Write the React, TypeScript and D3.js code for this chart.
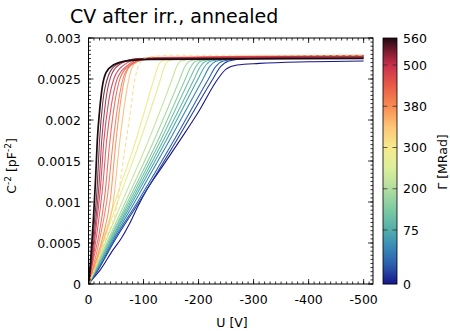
import React from 'react';
import * as d3 from 'd3';

// C^-2 vs bias voltage after irradiation + annealing, one curve per dose
const X_TICKS = [0, -100, -200, -300, -400, -500];
const Y_TICKS = [0, 0.0005, 0.001, 0.0015, 0.002, 0.0025, 0.003];
const Y_TICK_LABELS = ['0', '0.0005', '0.001', '0.0015', '0.002', '0.0025', '0.003'];
const GAMMA_TICKS = [0, 75, 200, 300, 380, 500, 560];

// colormap stops (dose -> colour)
const CMAP_GAMMA = [0, 25, 55, 75, 140, 200, 250, 300, 340, 380, 440, 500, 530, 560];
const CMAP_COLOR = ['#16168a', '#2a5aac', '#3a90b8', '#52aeaa', '#80cba2', '#b2dda0', '#dcef9a', '#f6ea8e', '#fdc577', '#f98b52', '#e95b47', '#c9304c', '#7d1b30', '#1e0a10'];

// [U (V), C^-2 (pF^-2)]
const CURVE_0 = [[0, 0], [-10, 0.00008], [-21, 0.00017], [-44, 0.00041], [-60, 0.00056], [-75, 0.00074], [-90, 0.00095], [-106, 0.00115], [-135, 0.00144], [-167, 0.00176], [-200, 0.0021], [-235, 0.0025], [-250, 0.00262], [-270, 0.00267], [-310, 0.00269], [-400, 0.00271], [-500, 0.00272]];
const CURVE_15 = [[0, 0], [-20, 0.0002], [-45, 0.0005], [-92, 0.001], [-160, 0.00175], [-226, 0.0025], [-240, 0.00265], [-255, 0.00272], [-290, 0.00275], [-380, 0.00276], [-500, 0.00277]];
const CURVE_30 = [[0, 0], [-20, 0.00021], [-43, 0.0005], [-89, 0.001], [-155, 0.00175], [-218, 0.0025], [-231, 0.00265], [-245, 0.00272], [-280, 0.00275], [-380, 0.00276], [-500, 0.00277]];
const CURVE_50 = [[0, 0], [-19, 0.00022], [-41, 0.0005], [-84, 0.001], [-147, 0.00175], [-208, 0.0025], [-220, 0.00265], [-233, 0.00272], [-270, 0.00275], [-380, 0.00276], [-500, 0.00277]];
const CURVE_70 = [[0, 0], [-18, 0.00022], [-39, 0.0005], [-80, 0.001], [-141, 0.00175], [-199, 0.0025], [-211, 0.00265], [-223, 0.00272], [-260, 0.00275], [-380, 0.00276], [-500, 0.00277]];
const CURVE_95 = [[0, 0], [-17, 0.00022], [-38, 0.0005], [-77, 0.001], [-136, 0.00175], [-192, 0.0025], [-203, 0.00265], [-214, 0.00272], [-250, 0.00275], [-380, 0.00276], [-500, 0.00277]];
const CURVE_120 = [[0, 0], [-16, 0.00022], [-36, 0.0005], [-74, 0.001], [-131, 0.00175], [-184, 0.0025], [-195, 0.00265], [-205, 0.00272], [-240, 0.00275], [-380, 0.00276], [-500, 0.00277]];
const CURVE_150 = [[0, 0], [-16, 0.00023], [-35, 0.0005], [-71, 0.001], [-126, 0.00175], [-176, 0.0025], [-186, 0.00265], [-196, 0.00272], [-230, 0.00275], [-380, 0.00276], [-500, 0.00277]];
const CURVE_185 = [[0, 0], [-15, 0.00023], [-33, 0.0005], [-67, 0.001], [-119, 0.00175], [-166, 0.0025], [-175, 0.00265], [-184, 0.00272], [-215, 0.00275], [-380, 0.00276], [-500, 0.00277]];
const CURVE_225 = [[0, 0], [-14, 0.00023], [-30, 0.0005], [-61, 0.001], [-109, 0.00175], [-152, 0.0025], [-160, 0.00265], [-168, 0.00272], [-200, 0.00275], [-380, 0.00277], [-500, 0.00277]];
const CURVE_265 = [[0, 0], [-12, 0.00023], [-26, 0.0005], [-53, 0.001], [-94, 0.00175], [-131, 0.0025], [-138, 0.00265], [-145, 0.00272], [-175, 0.00276], [-380, 0.00277], [-500, 0.00278]];
const CURVE_290 = [[0, 0], [-11, 0.00023], [-24, 0.0005], [-48, 0.001], [-86, 0.00175], [-119, 0.0025], [-126, 0.00265], [-133, 0.00272], [-160, 0.00276], [-380, 0.00277], [-500, 0.00278]];
const CURVE_320 = [[0, 0], [-15, 0.00025], [-30, 0.00054], [-51, 0.00094], [-63, 0.0015], [-75, 0.00205], [-85, 0.00252], [-92, 0.00268], [-105, 0.00276], [-150, 0.00279], [-500, 0.00279]];
const CURVE_350 = [[0, 0], [-14, 0.00025], [-28, 0.00055], [-45, 0.001], [-57, 0.00175], [-68, 0.0023], [-78, 0.00262], [-90, 0.00272], [-120, 0.00276], [-500, 0.00277]];
const CURVE_380 = [[0, 0], [-12, 0.00025], [-25, 0.00055], [-40, 0.00105], [-50, 0.00175], [-60, 0.0023], [-70, 0.0026], [-85, 0.00271], [-120, 0.00276], [-500, 0.00278]];
const CURVE_410 = [[0, 0], [-10, 0.00025], [-22, 0.0006], [-35, 0.0011], [-45, 0.00175], [-55, 0.00225], [-65, 0.00255], [-80, 0.00268], [-115, 0.00275], [-500, 0.00278]];
const CURVE_440 = [[0, 0], [-9, 0.0003], [-19, 0.0006], [-30, 0.0011], [-39, 0.00175], [-48, 0.00222], [-58, 0.00252], [-75, 0.00267], [-110, 0.00276], [-500, 0.00279]];
const CURVE_470 = [[0, 0], [-8, 0.0003], [-17, 0.0007], [-26, 0.0012], [-33, 0.00175], [-42, 0.0022], [-52, 0.0025], [-68, 0.00265], [-100, 0.00275], [-500, 0.00278]];
const CURVE_500 = [[0, 0], [-7, 0.0003], [-14, 0.0007], [-22, 0.0012], [-28, 0.00175], [-36, 0.0022], [-46, 0.0025], [-62, 0.00266], [-95, 0.00275], [-500, 0.00278]];
const CURVE_520 = [[0, 0], [-6, 0.0003], [-12, 0.0007], [-19, 0.0012], [-24, 0.00175], [-31, 0.00222], [-40, 0.00252], [-55, 0.00267], [-90, 0.00275], [-500, 0.00277]];
const CURVE_540 = [[0, 0], [-5, 0.0003], [-10, 0.0007], [-16, 0.0012], [-20, 0.00175], [-26, 0.00222], [-35, 0.00252], [-50, 0.00267], [-85, 0.00274], [-500, 0.00276]];
const CURVE_560 = [[0, 0], [-4, 0.0003], [-9, 0.0008], [-13, 0.0013], [-16, 0.00175], [-20, 0.0021], [-25, 0.0024], [-32, 0.00258], [-45, 0.00267], [-70, 0.00272], [-110, 0.00274], [-500, 0.00275]];

const SERIES = [
  { gamma: 0, pts: CURVE_0 }, { gamma: 15, pts: CURVE_15 }, { gamma: 30, pts: CURVE_30 },
  { gamma: 50, pts: CURVE_50 }, { gamma: 70, pts: CURVE_70 }, { gamma: 95, pts: CURVE_95 },
  { gamma: 120, pts: CURVE_120 }, { gamma: 150, pts: CURVE_150 }, { gamma: 185, pts: CURVE_185 },
  { gamma: 225, pts: CURVE_225 }, { gamma: 265, pts: CURVE_265 }, { gamma: 290, pts: CURVE_290 },
  { gamma: 350, pts: CURVE_350 }, { gamma: 380, pts: CURVE_380 }, { gamma: 410, pts: CURVE_410 },
  { gamma: 440, pts: CURVE_440 }, { gamma: 470, pts: CURVE_470 }, { gamma: 500, pts: CURVE_500 },
  { gamma: 520, pts: CURVE_520 }, { gamma: 540, pts: CURVE_540 }, { gamma: 320, pts: CURVE_320 },
  { gamma: 560, pts: CURVE_560 },
];
const DASHED = [320];

const W = 450, H = 331;
const L = 88.5, R = 373, T = 38, B = 284;
const CB_X = 383, CB_W = 14;
const FONT = 'DejaVu Sans, sans-serif';

export default function App() {
  const x = d3.scaleLinear().domain([0, -517]).range([L, R]);
  const y = d3.scaleLinear().domain([0, 0.003]).range([B, T]);
  // colour bar: 75..500 evenly spaced, end segments shorter/longer
  const lo = B - 54, hi = T + 27;
  const step = (lo - hi) / 4;
  const cbY = d3.scaleLinear().domain(GAMMA_TICKS)
    .range([B, lo, lo - step, lo - 2 * step, lo - 3 * step, hi, T]);
  const color = d3.scaleLinear<string>().domain(CMAP_GAMMA).range(CMAP_COLOR).interpolate(d3.interpolateRgb);

  const line = d3.line<number[]>().x(d => x(d[0])).y(d => y(d[1])).curve(d3.curveMonotoneX);

  const xMinor = d3.range(0, -511, -10);
  const yMinor = d3.range(0, 0.003 + 1e-9, 0.00005);
  const strips = d3.range(T, B, 1);

  return (
    <div style={{ position: 'fixed', left: 0, top: 0 }}>
      <svg width={W} height={H} style={{ display: 'block', background: '#fff' }} fontFamily={FONT}>
        <defs>
          <clipPath id="plot"><rect x={L} y={T} width={R - L} height={B - T} /></clipPath>
        </defs>
        <text x={70} y={23} fontSize={19} fill="#000">CV after irr., annealed</text>

        <g clipPath="url(#plot)">
          {SERIES.map(s => (
            <path key={s.gamma} d={line(s.pts) || ''} fill="none" stroke={color(s.gamma)}
              strokeWidth={s.gamma === 560 ? 1.7 : 1.1} strokeOpacity={s.gamma > 300 && s.gamma < 560 ? 0.85 : 1}
              strokeDasharray={DASHED.includes(s.gamma) ? '4,2.5' : undefined} />
          ))}
        </g>

        {/* ticks: inward on all four sides */}
        <g stroke="#000" strokeWidth={0.8}>
          {xMinor.map(v => (
            <g key={'xm' + v}>
              <line x1={x(v)} x2={x(v)} y1={B} y2={B - 2.5} />
              <line x1={x(v)} x2={x(v)} y1={T} y2={T + 2.5} />
            </g>
          ))}
          {X_TICKS.map(v => (
            <g key={'xM' + v}>
              <line x1={x(v)} x2={x(v)} y1={B} y2={B - 5} />
              <line x1={x(v)} x2={x(v)} y1={T} y2={T + 5} />
            </g>
          ))}
          {yMinor.map(v => (
            <g key={'ym' + v}>
              <line x1={L} x2={L + 2.5} y1={y(v)} y2={y(v)} />
              <line x1={R} x2={R - 2.5} y1={y(v)} y2={y(v)} />
            </g>
          ))}
          {Y_TICKS.map(v => (
            <g key={'yM' + v}>
              <line x1={L} x2={L + 5} y1={y(v)} y2={y(v)} />
              <line x1={R} x2={R - 5} y1={y(v)} y2={y(v)} />
            </g>
          ))}
        </g>
        <rect x={L} y={T} width={R - L} height={B - T} fill="none" stroke="#000" strokeWidth={1} />

        {X_TICKS.map(v => (
          <text key={'xl' + v} x={x(v)} y={304} fontSize={12.5} textAnchor="middle">{String(v)}</text>
        ))}
        {Y_TICKS.map((v, i) => (
          <text key={'yl' + v} x={81} y={y(v) + 4.5} fontSize={12.5} textAnchor="end">{Y_TICK_LABELS[i]}</text>
        ))}
        <text x={232} y={327} fontSize={12.5} textAnchor="middle">U [V]</text>
        <text transform="translate(16,166) rotate(-90)" fontSize={12.5} textAnchor="middle">
          C<tspan dy={-5} fontSize={9}>-2</tspan><tspan dy={5}> [pF</tspan><tspan dy={-5} fontSize={9}>-2</tspan><tspan dy={5}>]</tspan>
        </text>

        {/* colour bar */}
        {strips.map(py => (
          <rect key={'cb' + py} x={CB_X} y={py} width={CB_W} height={1.2} fill={color(cbY.invert(py + 0.5))} />
        ))}
        <g stroke="#222" strokeWidth={1} strokeOpacity={0.7}>
          {GAMMA_TICKS.slice(1, -1).map(g => (
            <g key={'cbt' + g}>
              <line x1={CB_X} x2={CB_X + 4.5} y1={cbY(g)} y2={cbY(g)} />
              <line x1={CB_X + CB_W} x2={CB_X + CB_W - 4.5} y1={cbY(g)} y2={cbY(g)} />
            </g>
          ))}
        </g>
        <rect x={CB_X} y={T} width={CB_W} height={B - T} fill="none" stroke="#000" strokeWidth={0.8} />
        {GAMMA_TICKS.map(g => (
          <text key={'cbl' + g} x={403} y={cbY(g) + 4.5} fontSize={12.5}>{g}</text>
        ))}
        <text transform="translate(447,162) rotate(-90)" fontSize={12.5} textAnchor="middle">Γ [MRad]</text>
      </svg>
    </div>
  );
}
